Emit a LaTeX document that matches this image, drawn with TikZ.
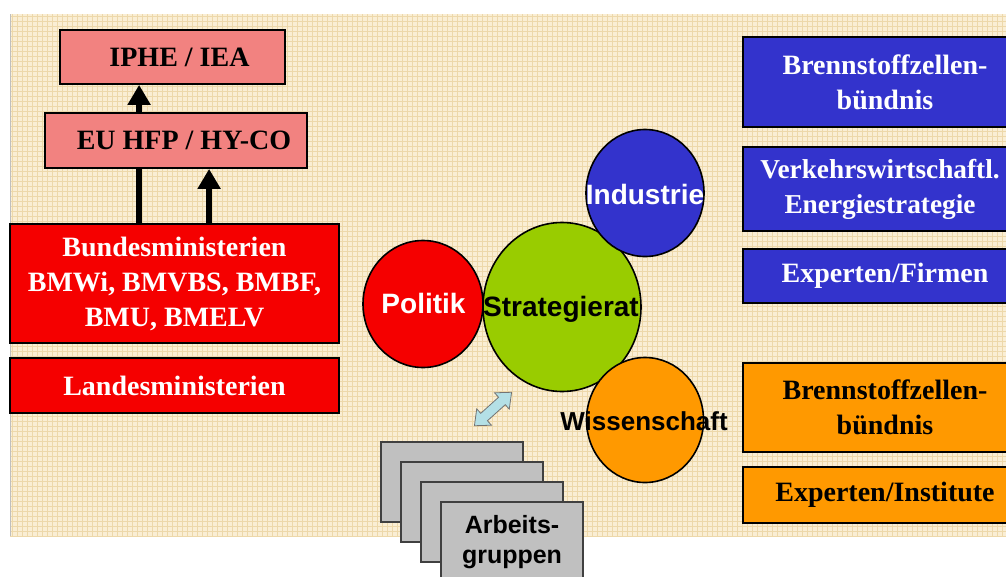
\documentclass[tikz,border=0pt]{standalone}
\usepackage{fontspec}
\setmainfont{Liberation Serif}
\newfontfamily\arialf{Liberation Sans}
\usetikzlibrary{shapes.geometric,arrows.meta,calc}
\pgfdeclarelayer{bgl}
\pgfdeclarelayer{midl}
\pgfsetlayers{bgl,midl,main}
\definecolor{paper}{RGB}{250,238,212}
\definecolor{gridc}{RGB}{237,216,170}
\definecolor{salmon}{RGB}{242,130,128}
\definecolor{redbox}{RGB}{245,0,0}
\definecolor{bluebox}{RGB}{51,51,204}
\definecolor{greenc}{RGB}{153,204,0}
\definecolor{orangec}{RGB}{255,153,0}
\definecolor{grayb}{RGB}{192,192,192}
\definecolor{lightblue}{RGB}{180,224,230}
\begin{document}
\begin{tikzpicture}[x=1pt,y=-1pt,
  box/.style={draw=black, line width=1.8pt, rectangle, inner sep=0pt, align=center,
    font=\bfseries\fontsize{28}{35}\selectfont},
  salbox/.style={box, fill=salmon, text=black},
  redb/.style={box, fill=redbox, text=white},
  blueb/.style={box, fill=bluebox, text=white},
  orangeb/.style={box, fill=orangec, text=black},
  circ/.style={draw=black, line width=1.6pt, ellipse, inner sep=0pt},
  ctext/.style={inner sep=0pt, font=\arialf\bfseries\fontsize{28}{34}\selectfont},
  gbox/.style={draw=black!75, line width=1.2pt, fill=grayb, rectangle, inner sep=0pt,
    minimum width=142pt, minimum height=80pt, align=center,
    font=\arialf\bfseries\fontsize{25}{30}\selectfont},
  bigarrow/.style={line width=6pt, -{Triangle[width=22pt,length=20pt]}},
]
\useasboundingbox (0,0) rectangle (1006,576);
% background with grid
\begin{pgfonlayer}{bgl}
\fill[white] (0,0) rectangle (1006,576);
\fill[paper] (10,14) rectangle (1006,536);
\foreach \x in {12,17,...,1006} \draw[gridc, line width=0.5pt] (\x,14) -- (\x,536);
\foreach \y in {16,21,...,536} \draw[gridc, line width=0.5pt] (10,\y) -- (1006,\y);
\draw[black!25, line width=0.8pt] (10,14) -- (10,536);
\end{pgfonlayer}

% left column
\node[salbox, minimum width=225pt, minimum height=54pt] (iphe) at (172.5,57) {\hspace*{14pt}IPHE / IEA};
\node[salbox, minimum width=262pt, minimum height=55pt] (eu) at (176,140.5) {\hspace*{16pt}EU HFP / HY-CO};
\node[redb, minimum width=329pt, minimum height=119pt] (bund) at (174.5,283.5)
  {Bundesministerien\\BMWi, BMVBS, BMBF,\\BMU, BMELV};
\node[redb, minimum width=329pt, minimum height=55pt] (landes) at (174.5,385.5) {Landesministerien};

\begin{pgfonlayer}{midl}
\coordinate (a1) at ([xshift=130pt]bund.north west);
\draw[bigarrow] (a1) -- (a1 |- iphe.south);
\coordinate (a2) at ([xshift=200pt]bund.north west);
\draw[bigarrow] (a2) -- (a2 |- eu.south);
\end{pgfonlayer}

% right column
\node[blueb, minimum width=284pt, minimum height=90pt] (b1) at (885,82) {Brennstoffzellen-\\bündnis};
\node[blueb, minimum width=284pt, minimum height=84pt, font=\bfseries\fontsize{27.3}{35}\selectfont] (b2) at (885,189)
  {\hspace*{-10pt}Verkehrswirtschaftl.\\\hspace*{-10pt}Energiestrategie};
\node[blueb, minimum width=284pt, minimum height=54pt] (b3) at (885,276) {Experten/Firmen};
\node[orangeb, minimum width=284pt, minimum height=89pt] (o1) at (885,407.5) {Brennstoffzellen-\\bündnis};
\node[orangeb, minimum width=284pt, minimum height=56pt] (o2) at (885,495) {Experten/Institute};

% circles
\node[circ, fill=redbox, minimum width=120pt, minimum height=127pt] (pol) at (423,304) {};
\node[circ, fill=greenc, minimum width=158pt, minimum height=169pt] (strat) at (562,307) {};
\node[circ, fill=bluebox, minimum width=118pt, minimum height=127pt] (ind) at (645,193) {};
\node[circ, fill=orangec, minimum width=117pt, minimum height=125pt] (wiss) at (645,420) {};
\node[ctext, text=white] (tpol) at (423.5,303) {Politik};
\node[ctext, text=black] (tstrat) at (561,309) {Strategierat};
\node[ctext, text=white] (tind) at (645,194) {Industrie};
\node[ctext, text=black, font=\arialf\bfseries\fontsize{26}{30}\selectfont] (twiss) at (644,421) {Wissenschaft};

% double arrow
\begin{scope}[shift={(493,409)}, rotate=42]
\filldraw[fill=lightblue, draw=black!55, line width=0.8pt]
  (-25,0) -- (-12,11) -- (-12,5) -- (12,5) -- (12,11) -- (25,0)
  -- (12,-11) -- (12,-5) -- (-12,-5) -- (-12,-11) -- cycle;
\end{scope}

% Arbeitsgruppen stack
\node[gbox] (ag1) at (452,482) {};
\node[gbox] (ag2) at (472,502) {};
\node[gbox] (ag3) at (492,522) {};
\node[gbox] (ag4) at (512,542) {Arbeits-\\gruppen};
\end{tikzpicture}
\end{document}
